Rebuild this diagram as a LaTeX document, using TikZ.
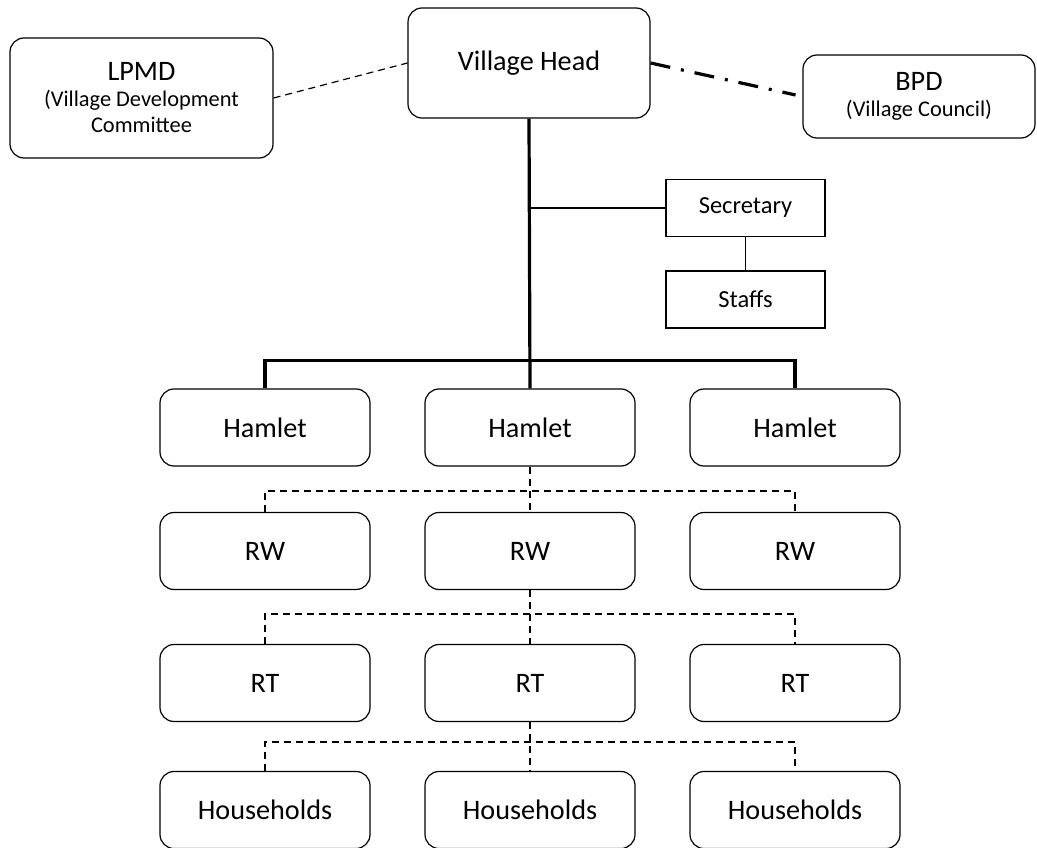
\documentclass[tikz,border=0pt]{standalone}
\usepackage{fontspec}
\setmainfont{Carlito}
\usepackage{tikz}
\usetikzlibrary{positioning,calc}
\tikzset{
  kerek/.style={draw,line width=1.2pt,rounded corners=14pt,minimum width=210pt,minimum height=77pt,
                inner sep=0pt,align=center,font=\fontsize{28.2}{32}\selectfont},
  szoglet/.style={draw,line width=1.2pt,minimum width=159pt,minimum height=57pt,inner sep=0pt,
                  font=\fontsize{24.5}{28}\selectfont},
  vastag/.style={line width=3.2pt},
  vekony/.style={line width=1.2pt},
  szagg/.style={line width=1.2pt,dash pattern=on 7pt off 5pt},
  pontvonal/.style={line width=3.2pt,dash pattern=on 20pt off 11pt on 3pt off 11pt},
}

\begin{document}
\begin{tikzpicture}[x=1pt,y=-1pt]
  \useasboundingbox (0,0) rectangle (1037,848);
  % 1. vezetes
  \node[kerek,minimum width=242pt,minimum height=110pt] (fo) at (529,63) {Village Head};
  \node[kerek,minimum width=263pt,minimum height=120pt,font=\fontsize{22.4}{26}\selectfont] (lpmd) at (141.5,98)
       {{\fontsize{28.2}{32}\selectfont LPMD}\\(Village Development\\Committee};
  \node[kerek,minimum width=232pt,minimum height=83pt,font=\fontsize{22.4}{26}\selectfont] (bpd) at (919,96.5)
       {{\fontsize{28.2}{32}\selectfont BPD}\\(Village Council)};
  \draw[szagg] (lpmd.east) -- (fo.west);
  \draw[pontvonal,shorten >=7pt] (fo.east) -- (bpd.west);
  % 2. titkarsag
  \node[szoglet] (titkar) at (745.5,208) {Secretary};
  \node[szoglet] (stab) at (745.5,299.5) {Staffs};
  \draw[vekony] (titkar.west) -- (titkar.west -| fo.south);
  \draw[vekony] (titkar) -- (stab);
  % 3. szintek
  \foreach \sor/\szoveg/\y in {h/Hamlet/427.5,r/RW/551,t/RT/683,k/Households/810}
    \foreach \i/\x in {1/265,2/530,3/795}
      \node[kerek] (\sor\i) at (\x,\y) {\szoveg};
  \draw[vastag] (fo.south) -- (h2.north);
  \draw[vastag] (h1.north) -- ++(0,-28) -| (h3.north);
  \draw[szagg] (h2.south) -- (r2.north);
  \draw[szagg] (r1.north) -- ++(0,-21) -| (r3.north);
  \draw[szagg] (r2.south) -- (t2.north);
  \draw[szagg] (t1.north) -- ++(0,-30) -| (t3.north);
  \draw[szagg] (t2.south) -- (k2.north);
  \draw[szagg] (k1.north) -- ++(0,-29) -| (k3.north);
\end{tikzpicture}
\end{document}
